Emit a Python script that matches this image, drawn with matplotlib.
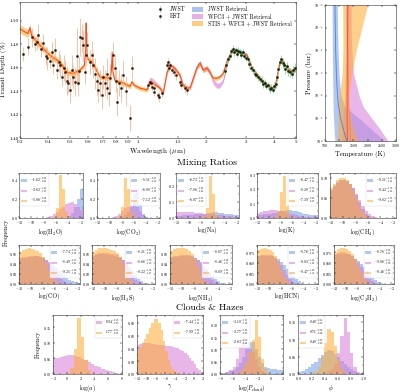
import numpy as np
import matplotlib
matplotlib.use("Agg")
import matplotlib.pyplot as plt
import matplotlib.ticker as ticker
from matplotlib.patches import Patch
from matplotlib.lines import Line2D

# ---- spectrum: retrieved models (wavelength in micron, transit depth in %) ----
STIS_WL = [0.30, 0.325, 0.332, 0.338, 0.368, 0.407, 0.451, 0.484, 0.515, 0.553, 0.578, 0.586, 0.589,
           0.592, 0.60, 0.625, 0.678, 0.751, 0.762, 0.768, 0.774, 0.79, 0.857, 0.921, 0.94, 0.96,
           1.019, 1.095, 1.129, 1.16, 1.25, 1.29, 1.34, 1.38, 1.42, 1.46, 1.532, 1.58, 1.66, 1.70,
           1.82, 1.88, 1.94, 2.02, 2.08, 2.15, 2.24, 2.30, 2.38, 2.50, 2.63, 2.74, 2.83, 2.91, 3.03,
           3.19, 3.46, 3.72, 3.91, 4.04, 4.25, 4.34, 4.56, 4.85, 5.0]
STIS_MODEL = [1.493, 1.489, 1.494, 1.487, 1.479, 1.4706, 1.4647, 1.456, 1.455, 1.458, 1.462, 1.475, 1.498,
              1.475, 1.467, 1.465, 1.452, 1.451, 1.458, 1.473, 1.456, 1.449, 1.447, 1.444, 1.448, 1.445,
              1.4425, 1.441, 1.448, 1.447, 1.4425, 1.438, 1.455, 1.462, 1.461, 1.459, 1.4536, 1.445, 1.4425, 1.443,
              1.460, 1.464, 1.458, 1.4596, 1.456, 1.451, 1.451, 1.452, 1.455, 1.468, 1.475, 1.4735, 1.473, 1.472, 1.4706,
              1.460, 1.451, 1.445, 1.4425, 1.4434, 1.465, 1.4664, 1.4596, 1.456, 1.4596]
STIS_SIG = [0.0035, 0.0033, 0.0033, 0.0032, 0.003, 0.0028, 0.0026, 0.0024, 0.0022, 0.0022, 0.0022, 0.0022, 0.0022,
            0.0022, 0.0022, 0.0022, 0.002, 0.002, 0.002, 0.002, 0.002, 0.002, 0.002, 0.002, 0.002, 0.002,
            0.002, 0.0018, 0.0015, 0.0015, 0.0015, 0.0015, 0.0015, 0.0015, 0.0015, 0.0015, 0.0015, 0.0015, 0.0015, 0.0015,
            0.0018, 0.0018, 0.0018, 0.0018, 0.0018, 0.0018, 0.0018, 0.0018, 0.0015, 0.0012, 0.0012, 0.0012, 0.0012, 0.0012, 0.0012,
            0.0012, 0.0012, 0.0012, 0.0012, 0.0012, 0.0012, 0.0012, 0.0012, 0.0012, 0.0012]

WFC3_WL = [1.095, 1.129, 1.16, 1.25, 1.29, 1.34, 1.38, 1.42, 1.46, 1.532, 1.58, 1.66, 1.70, 1.82, 1.88, 1.94,
           2.02, 2.08, 2.15, 2.24, 2.30, 2.38, 2.50, 2.63, 2.74, 2.83, 2.91, 3.03, 3.19, 3.46, 3.72, 3.91,
           4.04, 4.25, 4.34, 4.56, 4.85, 5.0]
WFC3_MODEL = [1.443, 1.450, 1.449, 1.443, 1.438, 1.456, 1.462, 1.461, 1.459, 1.4536, 1.445, 1.4425, 1.443, 1.460,
              1.464, 1.458, 1.4596, 1.456, 1.448, 1.4445, 1.445, 1.449, 1.467, 1.4755, 1.474, 1.4735, 1.472, 1.4706,
              1.460, 1.451, 1.445, 1.4425, 1.4434, 1.465, 1.4664, 1.4596, 1.456, 1.4596]
WFC3_SIG = [0.0018, 0.0018, 0.0018, 0.0016, 0.0016, 0.0016, 0.0016, 0.0016, 0.0016, 0.0016, 0.0016, 0.0016, 0.0018,
            0.0022, 0.0022, 0.0022, 0.0022, 0.0022, 0.0022, 0.0022, 0.0022, 0.0018, 0.0014, 0.0014, 0.0014, 0.0014,
            0.0014, 0.0014, 0.0014, 0.0014, 0.0014, 0.0014, 0.0014, 0.0014, 0.0014, 0.0014, 0.0014, 0.0014]

JWST_WL = [2.38, 2.50, 2.63, 2.74, 2.83, 2.91, 3.03, 3.19, 3.46, 3.72, 3.91, 4.04, 4.25, 4.34, 4.56, 4.85, 5.0]
JWST_MODEL = [1.450, 1.467, 1.476, 1.4745, 1.474, 1.4725, 1.471, 1.460, 1.451, 1.445, 1.4425, 1.4434, 1.465,
              1.4664, 1.4596, 1.456, 1.4596]
JWST_SIG = [0.0016, 0.0016, 0.0016, 0.0016, 0.0016, 0.0016, 0.0016, 0.0016, 0.0016, 0.0016, 0.0016, 0.0016,
            0.0016, 0.0016, 0.0016, 0.0016, 0.0016]

# ---- spectrum: observations ----
HST_WL = [0.31, 0.326, 0.34, 0.35, 0.356, 0.36, 0.37, 0.38, 0.39, 0.395, 0.407, 0.415, 0.42, 0.43, 0.436,
          0.445, 0.451, 0.46, 0.468, 0.475, 0.484, 0.49, 0.50, 0.508, 0.515, 0.525, 0.535, 0.54, 0.547,
          0.553, 0.565, 0.57, 0.58, 0.589, 0.595, 0.61, 0.625, 0.63, 0.645, 0.66, 0.665, 0.678, 0.69,
          0.70, 0.71, 0.725, 0.73, 0.74, 0.751, 0.775, 0.79, 0.80, 0.81, 0.825, 0.84, 0.857, 0.88,
          0.921, 0.94,
          1.106, 1.129, 1.144, 1.155, 1.17, 1.18, 1.23, 1.24, 1.28, 1.34, 1.35, 1.37, 1.39, 1.41,
          1.44, 1.47, 1.53, 1.55, 1.61, 1.65]
HST_DEPTH = [1.472, 1.478, 1.486, 1.480, 1.482, 1.488, 1.476, 1.481, 1.470, 1.468, 1.466, 1.473, 1.462, 1.475, 1.458,
             1.465, 1.462, 1.452, 1.460, 1.456, 1.449, 1.447, 1.441, 1.458, 1.452, 1.448, 1.470, 1.447, 1.457,
             1.486, 1.485, 1.479, 1.456, 1.471, 1.479, 1.465, 1.471, 1.462, 1.455, 1.449, 1.441, 1.447, 1.437,
             1.452, 1.447, 1.455, 1.443, 1.438, 1.451, 1.471, 1.460, 1.449, 1.431, 1.447, 1.443, 1.454, 1.440,
             1.417, 1.460,
             1.445, 1.448, 1.447, 1.4434, 1.4425, 1.439, 1.4366, 1.435, 1.438, 1.462, 1.465, 1.460, 1.462, 1.458,
             1.456, 1.4536, 1.448, 1.445, 1.4425, 1.441]
HST_ERR = [0.006, 0.007, 0.008, 0.006, 0.007, 0.009, 0.007, 0.008, 0.008, 0.010, 0.006, 0.009, 0.007, 0.010, 0.008,
           0.009, 0.010, 0.008, 0.011, 0.010, 0.012, 0.009, 0.011, 0.013, 0.010, 0.012, 0.024, 0.011, 0.012,
           0.016, 0.012, 0.013, 0.010, 0.009, 0.011, 0.010, 0.012, 0.011, 0.013, 0.012, 0.010, 0.011, 0.012,
           0.010, 0.011, 0.013, 0.010, 0.011, 0.012, 0.011, 0.012, 0.010, 0.012, 0.011, 0.012, 0.012, 0.013,
           0.011, 0.010,
           0.004, 0.003, 0.003, 0.003, 0.004, 0.003, 0.003, 0.004, 0.003, 0.003, 0.003, 0.003, 0.003, 0.003,
           0.003, 0.004, 0.003, 0.003, 0.004, 0.004]

JWST_DWL = [2.42, 2.46, 2.50, 2.54, 2.58, 2.62, 2.66, 2.70, 2.74, 2.78, 2.82, 2.86, 2.90, 2.95, 3.00, 3.05,
            3.10, 3.16, 3.22, 3.28, 3.34, 3.40, 3.46, 3.52, 3.58, 3.64, 3.70, 3.76, 3.82, 3.88, 3.94, 4.00,
            4.06, 4.12, 4.18, 4.24, 4.30, 4.36, 4.42, 4.48, 4.55, 4.62, 4.70, 4.78, 4.86, 4.94]
JWST_DEPTH = [1.457, 1.462, 1.467, 1.470, 1.474, 1.476, 1.473, 1.475, 1.472, 1.474, 1.473, 1.471, 1.473, 1.470,
              1.468, 1.467, 1.463, 1.460, 1.458, 1.455, 1.454, 1.452, 1.450, 1.449, 1.446, 1.447, 1.444, 1.445,
              1.442, 1.443, 1.441, 1.444, 1.446, 1.452, 1.459, 1.465, 1.467, 1.464, 1.462, 1.459, 1.461, 1.457,
              1.456, 1.455, 1.458, 1.460]
JWST_ERR = [0.003, 0.0025, 0.003, 0.0025, 0.003, 0.0035, 0.003, 0.0025, 0.003, 0.0035, 0.003, 0.0025, 0.003,
            0.003, 0.0025, 0.003, 0.003, 0.0025, 0.003, 0.003, 0.0025, 0.003, 0.003, 0.0035, 0.003, 0.003,
            0.0025, 0.003, 0.0035, 0.003, 0.003, 0.0035, 0.003, 0.003, 0.0035, 0.003, 0.0035, 0.004, 0.0035,
            0.004, 0.0035, 0.004, 0.004, 0.0035, 0.004, 0.004]

WL_TICKS = [0.3, 0.4, 0.5, 0.6, 0.7, 0.8, 0.9, 1, 1.5, 2, 3, 4, 5]
WL_TICKLABELS = ["0.3", "0.4", "0.5", "0.6", "0.7", "0.8", "0.9", "1", "1.5", "2", "3", "4", "5"]

# ---- temperature-pressure profiles ----
TP_LOGP = [-6, -5, -4, -3, -2, -1.5, -1, -0.5, 0]
JWST_T_LO = [750, 755, 760, 770, 780, 785, 800, 820, 850]
JWST_T_MED = [850, 860, 875, 900, 940, 980, 1050, 1150, 1270]
JWST_T_HI = [930, 940, 960, 990, 1060, 1200, 1700, 2150, 2600]
WFC3_T_LO = [1230, 1230, 1230, 1220, 1200, 1170, 1130, 1110, 1100]
WFC3_T_MED = [1310, 1310, 1310, 1320, 1330, 1340, 1360, 1380, 1400]
WFC3_T_HI = [1420, 1420, 1440, 1500, 1700, 1850, 2150, 2450, 2720]
STIS_T_LO = [1120, 1130, 1130, 1110, 1000, 970, 960, 950, 940]
STIS_T_MED = [1300, 1295, 1290, 1285, 1280, 1280, 1280, 1285, 1290]
STIS_T_HI = [2000, 1800, 1600, 1450, 1330, 1330, 1400, 1500, 1650]

# ---- posterior histograms (fraction of samples per bin) ----
MR_EDGES = np.linspace(-12, -1.5, 22)
H2O_B = [0, 0, 0, 0, 0, 0, 0, 0, 0, 0, 0, 0, 0, 0, 0, 0.005, 0.02, 0.05, 0.11, 0.20, 0.30]
H2O_V = [0, 0, 0, 0, 0, 0, 0, 0, 0, 0.01, 0.02, 0.04, 0.06, 0.09, 0.12, 0.15, 0.16, 0.17, 0.15, 0.12, 0.08]
H2O_O = [0, 0, 0, 0, 0, 0, 0, 0, 0, 0, 0, 0.01, 0.10, 0.45, 0.30, 0.06, 0.01, 0, 0, 0, 0]
CO2_B = [0, 0, 0, 0, 0, 0, 0, 0, 0.01, 0.03, 0.06, 0.12, 0.25, 0.30, 0.15, 0.04, 0.01, 0, 0, 0, 0]
CO2_V = [0, 0, 0, 0, 0, 0.01, 0.02, 0.04, 0.07, 0.10, 0.12, 0.14, 0.16, 0.12, 0.07, 0.03, 0.01, 0, 0, 0, 0]
CO2_O = [0, 0, 0, 0, 0, 0, 0, 0.02, 0.12, 0.42, 0.30, 0.06, 0.01, 0, 0, 0, 0, 0, 0, 0, 0]
NA_B = [0.015, 0.015, 0.02, 0.02, 0.02, 0.02, 0.022, 0.025, 0.025, 0.028, 0.03, 0.032, 0.035, 0.035, 0.032,
        0.03, 0.028, 0.025, 0.022, 0.02, 0.018]
NA_V = [0.04, 0.04, 0.038, 0.038, 0.036, 0.035, 0.034, 0.032, 0.03, 0.028, 0.026, 0.024, 0.022, 0.02, 0.018,
        0.016, 0.014, 0.012, 0.01, 0.008, 0.006]
NA_O = [0, 0, 0, 0, 0, 0, 0, 0, 0, 0.01, 0.06, 0.26, 0.15, 0.02, 0, 0, 0, 0, 0, 0, 0]
K_B = [0.02, 0.022, 0.025, 0.028, 0.03, 0.032, 0.035, 0.04, 0.045, 0.05, 0.055, 0.055, 0.05, 0.045, 0.04,
       0.035, 0.03, 0.025, 0.022, 0.02, 0.018]
K_V = [0.035, 0.04, 0.045, 0.05, 0.055, 0.055, 0.055, 0.05, 0.045, 0.04, 0.035, 0.03, 0.025, 0.02, 0.016,
       0.012, 0.01, 0.008, 0.006, 0.005, 0.004]
K_O = [0, 0, 0, 0, 0, 0, 0.01, 0.05, 0.18, 0.29, 0.08, 0.01, 0, 0, 0, 0, 0, 0, 0, 0, 0]
CH4_B = [0.07, 0.08, 0.09, 0.095, 0.095, 0.092, 0.085, 0.075, 0.058, 0.04, 0.022, 0.01, 0.004, 0.001, 0, 0, 0, 0, 0, 0, 0]
CH4_V = [0.07, 0.08, 0.088, 0.093, 0.095, 0.092, 0.085, 0.075, 0.06, 0.045, 0.03, 0.018, 0.01, 0.005, 0.002, 0, 0, 0, 0, 0, 0]
CH4_O = [0.075, 0.085, 0.095, 0.10, 0.10, 0.095, 0.085, 0.07, 0.05, 0.03, 0.015, 0.006, 0.002, 0, 0, 0, 0, 0, 0, 0, 0]
CO_B = [0.048, 0.05, 0.051, 0.052, 0.053, 0.054, 0.054, 0.053, 0.05, 0.047, 0.043, 0.038, 0.033, 0.028, 0.022,
        0.017, 0.012, 0.008, 0.005, 0.003, 0.001]
CO_V = [0.05, 0.052, 0.053, 0.054, 0.055, 0.055, 0.054, 0.052, 0.05, 0.046, 0.04, 0.033, 0.025, 0.017, 0.01,
        0.005, 0.002, 0.001, 0, 0, 0]
CO_O = [0.062, 0.066, 0.069, 0.07, 0.069, 0.067, 0.064, 0.06, 0.052, 0.04, 0.026, 0.013, 0.005, 0.001, 0, 0, 0, 0, 0, 0, 0]
H2S_B = [0.055, 0.057, 0.058, 0.058, 0.058, 0.057, 0.056, 0.055, 0.053, 0.05, 0.046, 0.04, 0.033, 0.025, 0.017,
         0.01, 0.005, 0.002, 0.001, 0, 0]
H2S_V = [0.056, 0.058, 0.06, 0.06, 0.06, 0.06, 0.059, 0.058, 0.056, 0.052, 0.046, 0.037, 0.027, 0.016, 0.008,
         0.003, 0.001, 0, 0, 0, 0]
H2S_O = [0.063, 0.067, 0.07, 0.07, 0.07, 0.069, 0.067, 0.064, 0.06, 0.052, 0.04, 0.025, 0.01, 0.003, 0, 0, 0, 0, 0, 0, 0]
NH3_B = [0.05, 0.052, 0.053, 0.054, 0.055, 0.055, 0.054, 0.052, 0.05, 0.047, 0.042, 0.036, 0.03, 0.023, 0.016,
         0.01, 0.005, 0.002, 0.001, 0, 0]
NH3_V = [0.052, 0.054, 0.055, 0.056, 0.057, 0.057, 0.056, 0.054, 0.051, 0.046, 0.04, 0.032, 0.023, 0.014, 0.007,
         0.003, 0.001, 0, 0, 0, 0]
NH3_O = [0.064, 0.068, 0.07, 0.071, 0.07, 0.068, 0.064, 0.058, 0.048, 0.035, 0.02, 0.008, 0.002, 0, 0, 0, 0, 0, 0, 0, 0]
HCN_B = [0.065, 0.066, 0.067, 0.067, 0.066, 0.065, 0.062, 0.058, 0.052, 0.045, 0.036, 0.027, 0.018, 0.011, 0.006,
         0.003, 0.001, 0, 0, 0, 0]
HCN_V = [0.066, 0.068, 0.069, 0.069, 0.068, 0.066, 0.062, 0.055, 0.045, 0.033, 0.021, 0.011, 0.005, 0.002, 0, 0, 0, 0, 0, 0, 0]
HCN_O = [0.08, 0.083, 0.085, 0.083, 0.08, 0.075, 0.065, 0.05, 0.032, 0.016, 0.006, 0.002, 0, 0, 0, 0, 0, 0, 0, 0, 0]
C2H2_B = [0.068, 0.07, 0.071, 0.071, 0.07, 0.068, 0.065, 0.06, 0.054, 0.047, 0.039, 0.03, 0.022, 0.015, 0.009,
          0.005, 0.002, 0.001, 0, 0, 0]
C2H2_V = [0.07, 0.073, 0.075, 0.075, 0.074, 0.071, 0.066, 0.059, 0.05, 0.04, 0.03, 0.02, 0.012, 0.006, 0.003,
          0.001, 0, 0, 0, 0, 0]
C2H2_O = [0.075, 0.082, 0.085, 0.085, 0.083, 0.078, 0.07, 0.058, 0.043, 0.028, 0.015, 0.006, 0.002, 0, 0, 0, 0, 0, 0, 0, 0]

A_EDGES = np.linspace(-2, 8, 21)
A_V = [0.05, 0.052, 0.055, 0.058, 0.06, 0.06, 0.058, 0.054, 0.049, 0.044, 0.038, 0.032, 0.027, 0.022, 0.017,
       0.013, 0.009, 0.006, 0.003, 0.001]
A_O = [0, 0, 0, 0, 0.003, 0.02, 0.08, 0.18, 0.12, 0.045, 0.012, 0.003, 0, 0, 0, 0, 0, 0, 0, 0]
G_EDGES = np.linspace(-12, 2, 29)
G_V = [0.045, 0.047, 0.048, 0.048, 0.048, 0.048, 0.047, 0.047, 0.046, 0.046, 0.045, 0.045, 0.044, 0.044, 0.043,
       0.042, 0.041, 0.04, 0.038, 0.036, 0.033, 0.029, 0.025, 0.02, 0.015, 0.01, 0.006, 0.003]
G_O = [0.038, 0.042, 0.048, 0.055, 0.063, 0.072, 0.08, 0.086, 0.086, 0.08, 0.068, 0.052, 0.036, 0.022, 0.012,
       0.006, 0.003, 0.001, 0, 0, 0, 0, 0, 0, 0, 0, 0, 0]
PC_EDGES = np.linspace(-8, 2, 21)
PC_B = [0.003, 0.005, 0.008, 0.012, 0.018, 0.028, 0.045, 0.07, 0.10, 0.13, 0.13, 0.10, 0.07, 0.045, 0.03,
        0.025, 0.022, 0.02, 0.018, 0.015]
PC_V = [0.002, 0.004, 0.008, 0.015, 0.03, 0.06, 0.11, 0.15, 0.12, 0.10, 0.09, 0.06, 0.03, 0.012, 0.005,
        0.002, 0.001, 0, 0, 0]
PC_O = [0, 0, 0, 0, 0.002, 0.005, 0.01, 0.025, 0.05, 0.09, 0.14, 0.22, 0.15, 0.06, 0.02, 0.006, 0.002, 0, 0, 0]
PHI_EDGES = np.linspace(0, 1, 21)
PHI_B = [0.005, 0.01, 0.015, 0.02, 0.028, 0.036, 0.045, 0.055, 0.062, 0.068, 0.065, 0.058, 0.048, 0.038, 0.028,
         0.02, 0.013, 0.008, 0.004, 0.002]
PHI_V = [0, 0, 0, 0, 0, 0, 0, 0.001, 0.003, 0.008, 0.015, 0.03, 0.06, 0.11, 0.16, 0.12, 0.06, 0.02, 0.005, 0.001]
PHI_O = [0, 0, 0, 0, 0.002, 0.006, 0.02, 0.05, 0.09, 0.13, 0.12, 0.08, 0.04, 0.015, 0.004, 0.001, 0, 0, 0, 0]

# ---- styling ----
C_BLUE = "#6f9be8"
C_VIOLET = "#d67ad8"
C_ORANGE = "#ffab2e"
C_LINE = "#ff4a1c"

plt.rcParams.update({
    "font.family": ["cmr10", "DejaVu Serif"],
    "mathtext.fontset": "cm",
    "axes.formatter.use_mathtext": True,
    "axes.linewidth": 0.4,
    "axes.edgecolor": "#333333",
    "xtick.direction": "in",
    "ytick.direction": "in",
    "xtick.top": True,
    "ytick.right": True,
    "xtick.major.size": 1.6,
    "ytick.major.size": 1.6,
    "xtick.minor.size": 0.9,
    "ytick.minor.size": 0.9,
    "xtick.major.width": 0.35,
    "ytick.major.width": 0.35,
    "xtick.minor.width": 0.3,
    "ytick.minor.width": 0.3,
    "xtick.major.pad": 1.0,
    "ytick.major.pad": 1.0,
    "xtick.labelsize": 3.0,
    "ytick.labelsize": 3.0,
    "axes.labelpad": 1.0,
})

W, H = 400.0, 392.0


def box(x0, x1, y0, y1):
    return [x0 / W, 1 - y1 / H, (x1 - x0) / W, (y1 - y0) / H]


fig = plt.figure(figsize=(4.0, 3.92), dpi=100)

# ===== transmission spectrum =====
ax = fig.add_axes(box(20, 296, 2, 138))
lo = np.array(JWST_MODEL) - np.array(JWST_SIG)
hi = np.array(JWST_MODEL) + np.array(JWST_SIG)
ax.fill_between(JWST_WL, lo, hi, color=C_BLUE, alpha=0.6, lw=0)
lo = np.array(WFC3_MODEL) - np.array(WFC3_SIG)
hi = np.array(WFC3_MODEL) + np.array(WFC3_SIG)
ax.fill_between(WFC3_WL, lo, hi, color=C_VIOLET, alpha=0.6, lw=0)
lo = np.array(STIS_MODEL) - np.array(STIS_SIG)
hi = np.array(STIS_MODEL) + np.array(STIS_SIG)
ax.fill_between(STIS_WL, lo, hi, color=C_ORANGE, alpha=0.6, lw=0)
ax.plot(STIS_WL, STIS_MODEL, color=C_LINE, lw=0.8)

hst = ax.errorbar(HST_WL, HST_DEPTH, yerr=HST_ERR, fmt="s", ms=0.9, mfc="#2b1408", mec="#2b1408",
                  ecolor="#f2a57a", elinewidth=0.55, alpha=0.85, label="HST")
jw = ax.errorbar(JWST_DWL, JWST_DEPTH, yerr=JWST_ERR, fmt="s", ms=0.9, mfc="#0e2a0e", mec="#0e2a0e",
                 ecolor="#7fcf7f", elinewidth=0.55, alpha=0.9, label="JWST")

ax.set_xscale("log")
ax.set_xlim(0.3, 5)
ax.set_ylim(1.40, 1.516)
ax.xaxis.set_major_locator(ticker.FixedLocator(WL_TICKS))
ax.xaxis.set_major_formatter(ticker.FixedFormatter(WL_TICKLABELS))
ax.xaxis.set_minor_locator(ticker.NullLocator())
ax.set_yticks([1.40, 1.42, 1.44, 1.46, 1.48, 1.50])
ax.yaxis.set_major_formatter(ticker.FormatStrFormatter("%.2f"))
ax.tick_params(labelsize=3.6)
ax.set_xlabel(r"Wavelength ($\mu$m)", fontsize=5.2, labelpad=2)
ax.set_ylabel("Transit Depth (%)", fontsize=5.0, labelpad=1.5)

blank = Line2D([], [], color="none")
handles = [jw, hst, blank,
           Patch(facecolor=C_BLUE, alpha=0.6), Patch(facecolor=C_VIOLET, alpha=0.6),
           Patch(facecolor=C_ORANGE, alpha=0.6)]
labels = ["JWST", "HST", "", "JWST Retrieval", "WFC3 + JWST Retrieval", "STIS + WFC3 + JWST Retrieval"]
ax.legend(handles, labels, ncol=2, loc="upper right", fontsize=4.0, frameon=False,
          handlelength=2.0, handleheight=0.9, columnspacing=1.2, labelspacing=0.25, borderaxespad=0.4)

# ===== temperature-pressure profile =====
tp = fig.add_axes(box(325, 396, 5, 141))
pressure = 10.0 ** np.array(TP_LOGP)
tp.fill_betweenx(pressure, JWST_T_LO, JWST_T_HI, color=C_BLUE, alpha=0.55, lw=0)
tp.fill_betweenx(pressure, WFC3_T_LO, WFC3_T_HI, color=C_VIOLET, alpha=0.55, lw=0)
tp.fill_betweenx(pressure, STIS_T_LO, STIS_T_HI, color=C_ORANGE, alpha=0.55, lw=0)
tp.plot(JWST_T_MED, pressure, color="#4f7fd8", lw=0.6)
tp.plot(WFC3_T_MED, pressure, color="#ff7a5a", lw=0.6)
tp.plot(STIS_T_MED, pressure, color=C_LINE, lw=0.6)
tp.set_yscale("log")
tp.set_ylim(1e0, 1e-6)
tp.set_xlim(500, 3000)
tp.set_xticks([500, 1000, 1500, 2000, 2500, 3000])
tp.yaxis.set_major_locator(ticker.LogLocator(base=10, numticks=10))
tp.yaxis.set_minor_locator(ticker.NullLocator())
tp.tick_params(labelsize=2.8)
tp.set_xlabel("Temperature (K)", fontsize=4.8, labelpad=1.5)
tp.set_ylabel("Pressure (bar)", fontsize=4.8, labelpad=1.0)

# ===== posterior histograms =====


def hist_panel(rect, edges, series, legend_txt, loc, xlim, xticks, yticks, ylim, xlabel):
    a = fig.add_axes(rect)
    handles = []
    for heights, color in series:
        a.stairs(heights, edges, fill=True, color=color, alpha=0.55, lw=0)
        handles.append(Patch(facecolor=color, alpha=0.55))
    a.set_xlim(*xlim)
    a.set_ylim(*ylim)
    a.set_xticks(xticks)
    a.set_yticks(yticks)
    a.xaxis.set_minor_locator(ticker.AutoMinorLocator(2))
    a.yaxis.set_minor_locator(ticker.AutoMinorLocator(2))
    a.tick_params(labelsize=2.8, pad=0.8)
    a.set_xlabel(xlabel, fontsize=4.3, labelpad=0.4)
    leg = a.legend(handles, legend_txt, loc=loc, fontsize=2.6, handlelength=1.6, handleheight=0.7,
                   labelspacing=0.25, borderpad=0.35, borderaxespad=0.3, fancybox=False)
    leg.get_frame().set_linewidth(0.3)
    leg.get_frame().set_edgecolor("#cccccc")
    return a


MR_XT = [-12, -10, -8, -6, -4, -2]
MR_XL = (-12, -1.5)

mixing = [
    (box(19, 83, 173, 218), [H2O_B, H2O_V, H2O_O],
     [r"$-1.62^{+0.42}_{-0.61}$", r"$-3.62^{+1.06}_{-1.27}$", r"$-5.06^{+0.28}_{-0.26}$"],
     "upper left", [0, 0.2, 0.4], (0, 0.47), r"log(H$_2$O)"),
    (box(97, 160, 173, 218), [CO2_B, CO2_V, CO2_O],
     [r"$-5.51^{+0.37}_{-0.52}$", r"$-6.08^{+1.11}_{-1.23}$", r"$-7.12^{+0.24}_{-0.26}$"],
     "upper right", [0, 0.2, 0.4], (0, 0.47), r"log(CO$_2$)"),
    (box(176, 239, 173, 218), [NA_B, NA_V, NA_O],
     [r"$-6.73^{+3.11}_{-3.29}$", r"$-7.86^{+3.04}_{-2.66}$", r"$-6.07^{+0.25}_{-0.27}$"],
     "upper left", [0, 0.1, 0.2], (0, 0.28), "log(Na)"),
    (box(257, 318, 173, 218), [K_B, K_V, K_O],
     [r"$-6.47^{+2.65}_{-3.21}$", r"$-8.28^{+2.76}_{-2.44}$", r"$-7.39^{+0.26}_{-0.27}$"],
     "upper right", [0, 0.1, 0.2, 0.3], (0, 0.31), "log(K)"),
    (box(330, 396, 173, 218), [CH4_B, CH4_V, CH4_O],
     [r"$-9.51^{+1.54}_{-1.61}$", r"$-9.42^{+1.72}_{-1.66}$", r"$-9.62^{+1.44}_{-1.52}$"],
     "upper right", [0, 0.05, 0.10], (0, 0.112), r"log(CH$_4$)"),
    (box(19, 80, 245, 284), [CO_B, CO_V, CO_O],
     [r"$-7.74^{+2.56}_{-2.42}$", r"$-8.49^{+2.11}_{-2.21}$", r"$-9.25^{+1.60}_{-1.62}$"],
     "upper right", [0, 0.02, 0.04, 0.06], (0, 0.076), "log(CO)"),
    (box(92, 155, 245, 284), [H2S_B, H2S_V, H2S_O],
     [r"$-8.21^{+2.33}_{-2.37}$", r"$-8.66^{+1.99}_{-2.10}$", r"$-9.22^{+1.58}_{-1.67}$"],
     "upper right", [0, 0.02, 0.04, 0.06], (0, 0.076), r"log(H$_2$S)"),
    (box(170, 232, 245, 284), [NH3_B, NH3_V, NH3_O],
     [r"$-8.07^{+2.33}_{-2.31}$", r"$-8.46^{+2.02}_{-2.17}$", r"$-9.09^{+1.61}_{-1.68}$"],
     "upper right", [0, 0.02, 0.04, 0.06], (0, 0.076), r"log(NH$_3$)"),
    (box(257, 318, 245, 284), [HCN_B, HCN_V, HCN_O],
     [r"$-8.76^{+2.01}_{-2.06}$", r"$-9.02^{+1.66}_{-1.84}$", r"$-9.47^{+1.29}_{-1.52}$"],
     "upper right", [0, 0.025, 0.05, 0.075], (0, 0.092), "log(HCN)"),
    (box(334, 394, 245, 284), [C2H2_B, C2H2_V, C2H2_O],
     [r"$-8.76^{+2.06}_{-2.12}$", r"$-9.06^{+1.75}_{-1.90}$", r"$-9.46^{+1.42}_{-1.54}$"],
     "upper right", [0, 0.025, 0.05, 0.075], (0, 0.092), r"log(C$_2$H$_2$)"),
]
for rect, hs, txt, loc, yt, yl, xl in mixing:
    hist_panel(rect, MR_EDGES, list(zip(hs, [C_BLUE, C_VIOLET, C_ORANGE])), txt, loc,
               MR_XL, MR_XT, yt, yl, xl)

a1 = hist_panel(box(53, 122, 315, 374), A_EDGES, [(A_V, C_VIOLET), (A_O, C_ORANGE)],
                [r"$0.94^{+2.18}_{-2.09}$", r"$1.77^{+0.45}_{-0.43}$"], "upper right",
                (-2, 8), [-2, 0, 2, 4, 6, 8], [0, 0.05, 0.10, 0.15], (0, 0.19), r"log($a$)")
a1.set_ylabel("Frequency", fontsize=4.3, labelpad=1.5)
hist_panel(box(137, 203, 315, 374), G_EDGES, [(G_V, C_VIOLET), (G_O, C_ORANGE)],
           [r"$-7.44^{+4.37}_{-3.14}$", r"$-7.99^{+1.49}_{-1.58}$"], "upper right",
           (-12, 2), [-12, -10, -8, -6, -4, -2, 0, 2], [0, 0.02, 0.04, 0.06, 0.08], (0, 0.092), r"$\gamma$")
hist_panel(box(220, 283, 315, 374), PC_EDGES, [(PC_B, C_BLUE), (PC_V, C_VIOLET), (PC_O, C_ORANGE)],
           [r"$-3.10^{+1.67}_{-1.38}$", r"$-3.77^{+1.06}_{-0.83}$", r"$-2.63^{+0.52}_{-0.64}$"], "upper left",
           (-8, 2), [-8, -6, -4, -2, 0, 2], [0, 0.05, 0.10, 0.15, 0.20], (0, 0.24), r"log($P_{\rm cloud}$)")
hist_panel(box(298, 363, 315, 374), PHI_EDGES, [(PHI_B, C_BLUE), (PHI_V, C_VIOLET), (PHI_O, C_ORANGE)],
           [r"$0.40^{+0.16}_{-0.18}$", r"$0.71^{+0.06}_{-0.08}$", r"$0.48^{+0.09}_{-0.10}$"], "upper left",
           (0, 1), [0, 0.2, 0.4, 0.6, 0.8, 1.0], [0, 0.05, 0.10, 0.15], (0, 0.17), r"$\phi$")

fig.text(0.518, 1 - 163 / H, "Mixing Ratios", ha="center", va="center", fontsize=7)
fig.text(0.525, 1 - 308 / H, "Clouds & Hazes", ha="center", va="center", fontsize=7)
fig.text(0.014, 1 - 232 / H, "Frequency", ha="center", va="center", rotation=90, fontsize=4.3)

fig.savefig("out.png", dpi=100)
